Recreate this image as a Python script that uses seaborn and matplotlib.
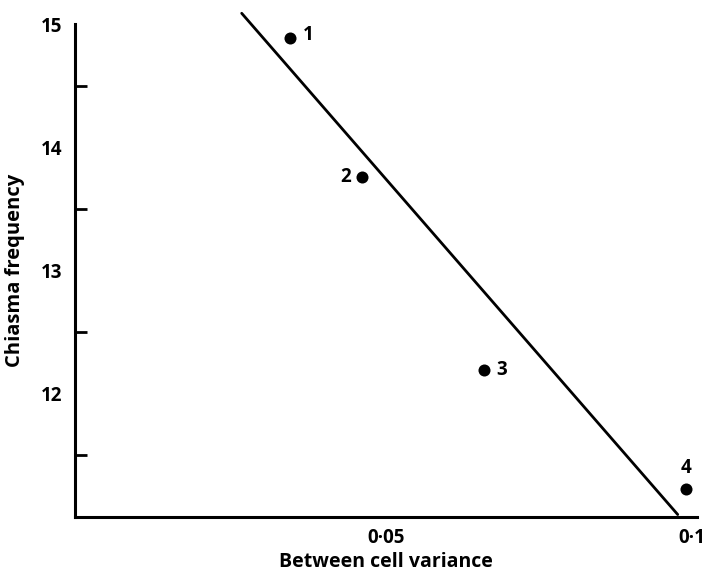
import matplotlib
matplotlib.use("Agg")
import matplotlib.pyplot as plt
import matplotlib.transforms as mtransforms
import seaborn as sns
import pandas as pd
from matplotlib.ticker import MultipleLocator

# Data
variance = [0.0346, 0.0461, 0.0658, 0.0983]
chiasma = [14.89, 13.76, 12.19, 11.23]
point_labels = ["1", "2", "3", "4"]
line_x = [0.0268, 0.0969]
line_y = [15.087, 11.02]
xtick_vals = [0.05, 0.1]
xtick_labels = ["0·05", "0·1"]
ytick_vals = [12, 13, 14, 15]
ytick_labels = ["12", "13", "14", "15"]

sns.set_theme(style="white")
plt.rcParams["font.family"] = ["Open Sans", "DejaVu Sans"]

FS = 13.5
fig = plt.figure(figsize=(7.08, 5.73), dpi=100)
ax = fig.add_axes([75 / 708, 1 - 517 / 573, (697 - 75) / 708, (517 - 24) / 573])

df = pd.DataFrame({"x": variance, "y": chiasma, "lab": point_labels})
sns.scatterplot(data=df, x="x", y="y", ax=ax, color="black", s=75,
                edgecolor="black", linewidth=0, zorder=3)
sns.lineplot(x=line_x, y=line_y, ax=ax, color="black", linewidth=2.0)
for l in ax.lines:
    l.set_clip_on(False)

offsets = {"1": (9, 2, "left", "center"), "2": (-8, 0, "right", "center"),
           "3": (9, 0, "left", "center"), "4": (0, 8, "center", "bottom")}
for xv, yv, lab in zip(variance, chiasma, point_labels):
    dx, dy, ha, va = offsets[lab]
    ax.annotate(lab, (xv, yv), xytext=(dx, dy), textcoords="offset points",
                ha=ha, va=va, fontsize=FS, fontweight="bold", color="black")

ax.set_xlim(0, 0.1)
ax.set_ylim(11, 15)
ax.set_xticks(xtick_vals)
ax.set_xticklabels(xtick_labels)
ax.set_yticks(ytick_vals)
ax.set_yticklabels(ytick_labels)
ax.yaxis.set_minor_locator(MultipleLocator(0.5))

for side in ["top", "right"]:
    ax.spines[side].set_visible(False)
for side in ["left", "bottom"]:
    ax.spines[side].set_linewidth(2.2)
    ax.spines[side].set_color("black")

ax.tick_params(axis="both", which="both", direction="in", length=8.5, width=2,
               colors="black", labelsize=FS)
ax.tick_params(axis="y", which="major", pad=9)
ax.tick_params(axis="x", which="major", pad=8)
ax.tick_params(axis="y", which="minor", left=True)
for t in ax.get_xticklabels() + ax.get_yticklabels():
    t.set_fontweight("bold")
# nudge the last x tick label so it stays inside the canvas
last = ax.get_xticklabels()[-1]
last.set_transform(last.get_transform() +
                   mtransforms.ScaledTranslation(-5 / 100, 0, fig.dpi_scale_trans))

ax.set_xlabel("Between cell variance", fontsize=14, fontweight="bold", color="black")
ax.set_ylabel("Chiasma frequency", fontsize=14.5, fontweight="bold", color="black")
ax.xaxis.set_label_coords(0.5, -0.07)
ax.yaxis.set_label_coords(-0.08, 0.5)
ax.patch.set_alpha(0)

fig.savefig("out.png", dpi=100)
